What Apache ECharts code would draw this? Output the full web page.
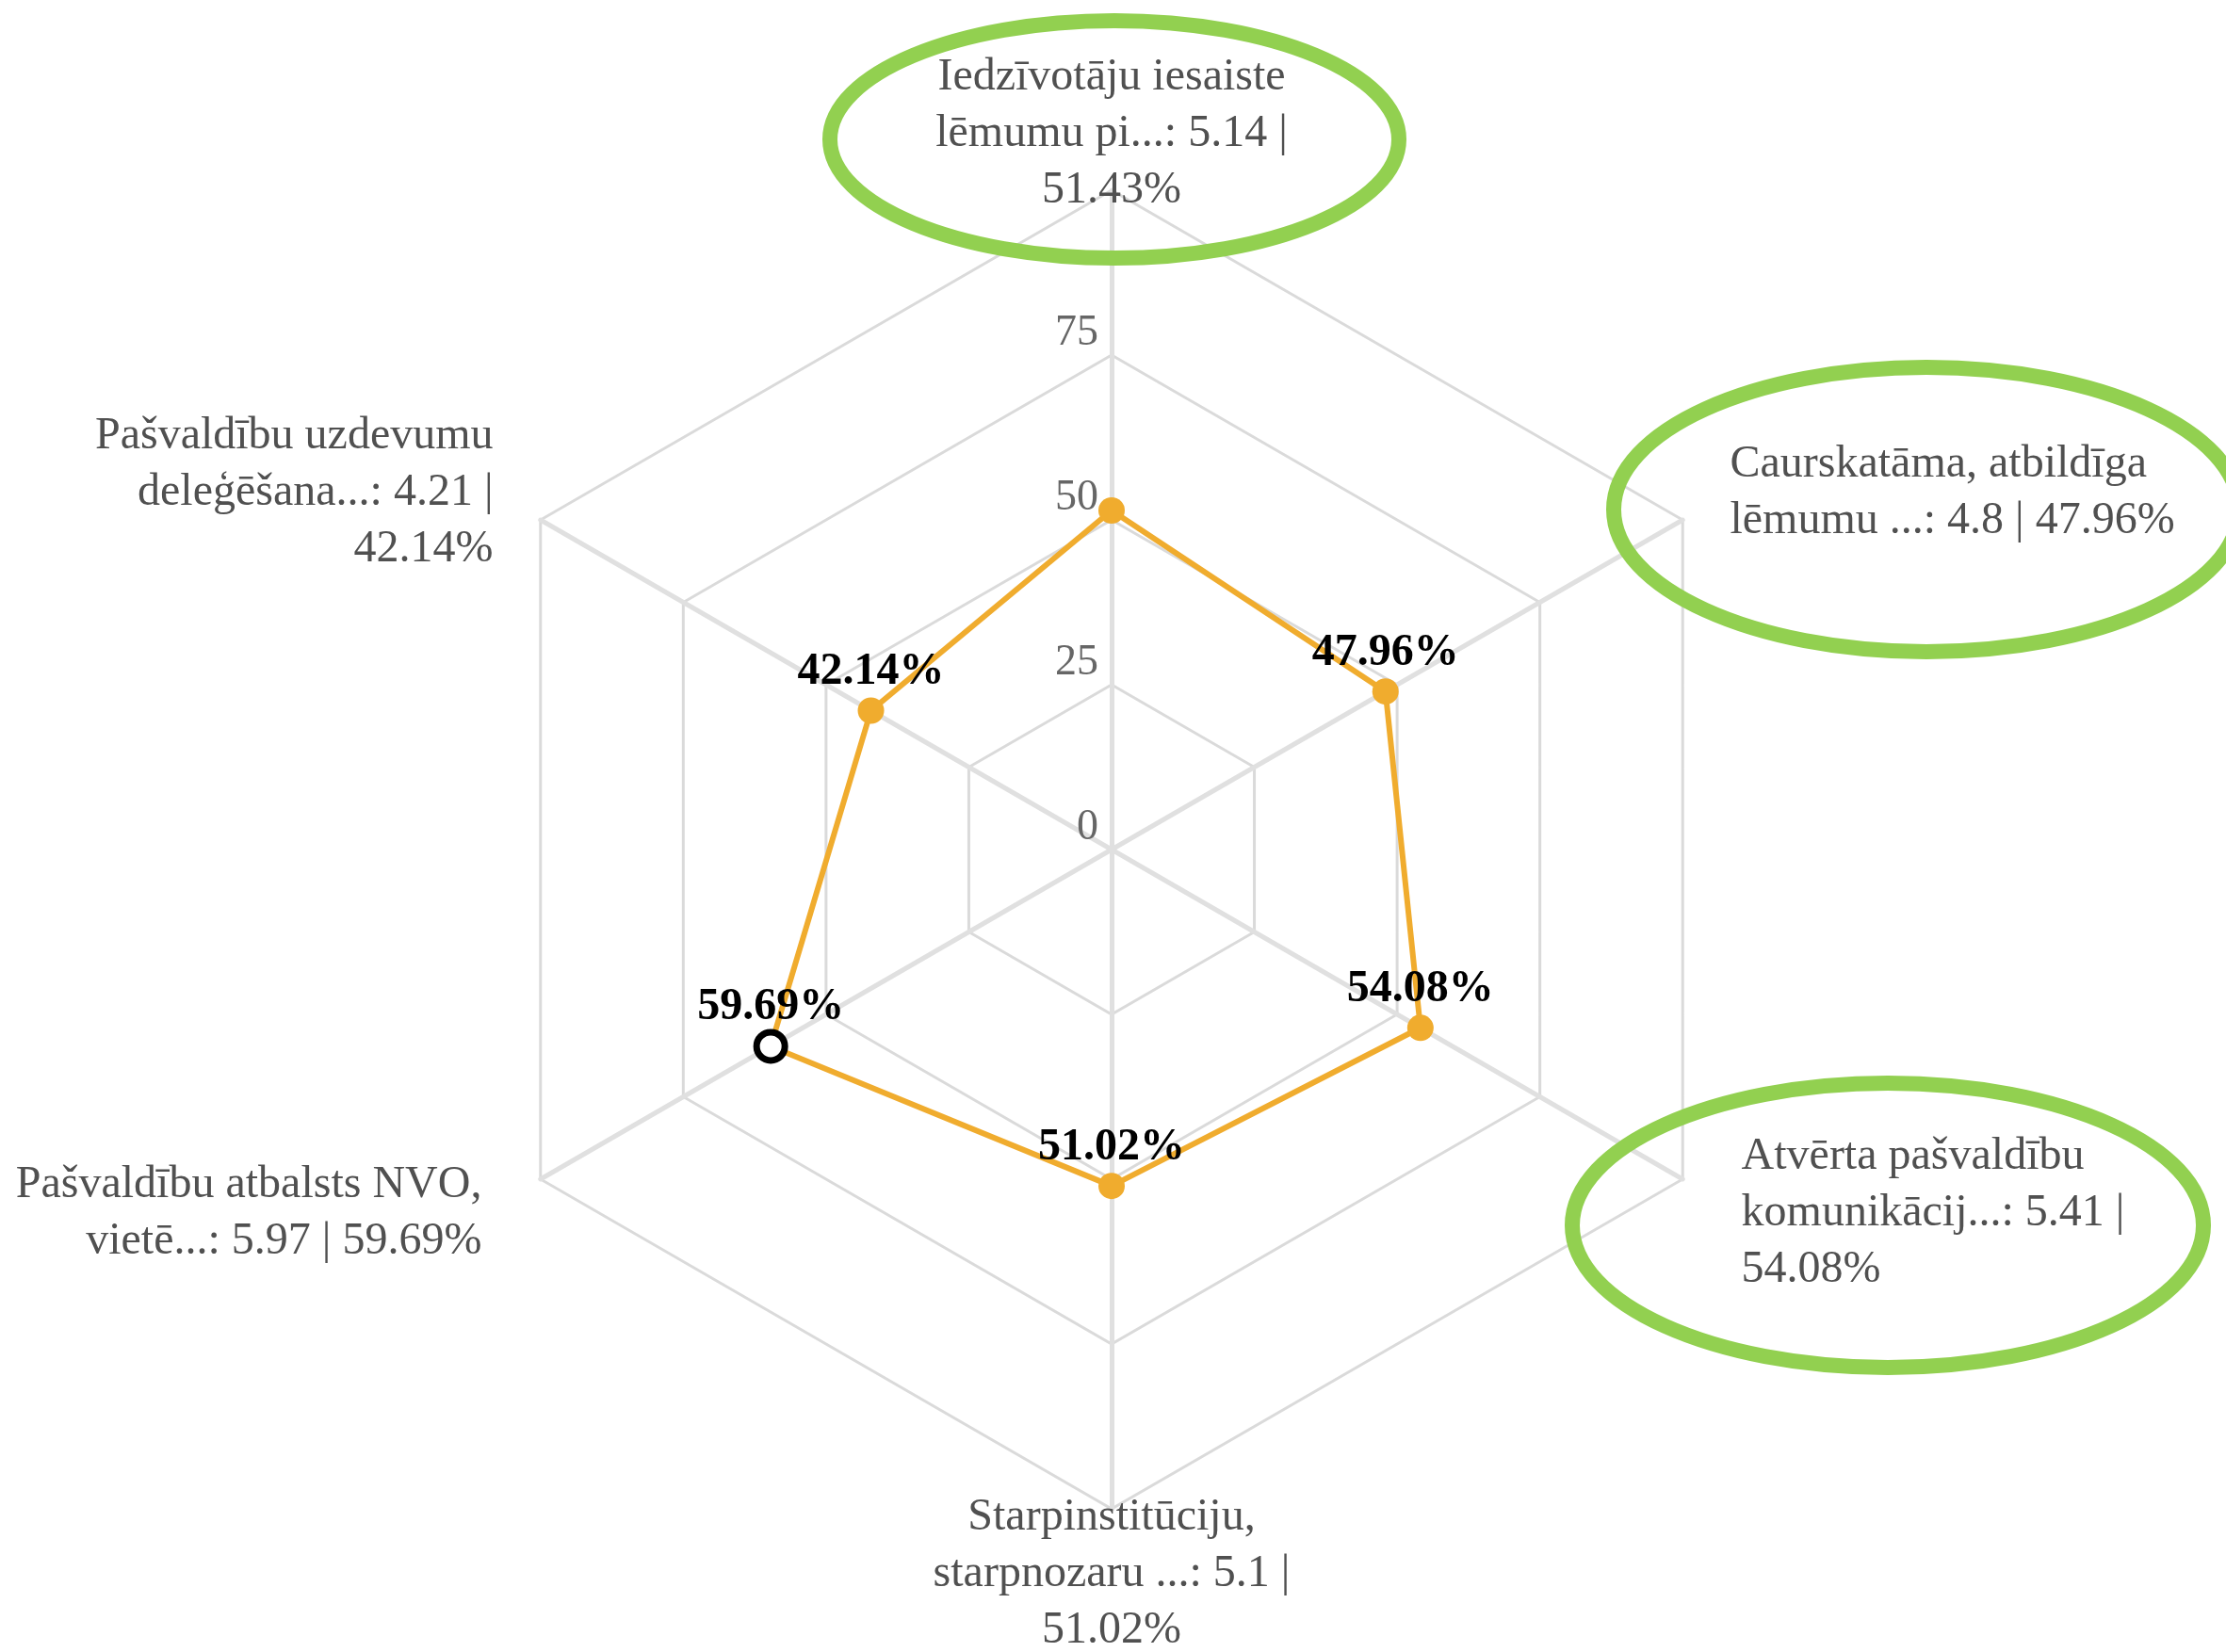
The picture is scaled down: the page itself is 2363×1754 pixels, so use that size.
<!DOCTYPE html>
<html>
<head>
<meta charset="utf-8">
<title>Radar</title>
<script src="https://cdn.jsdelivr.net/npm/echarts@6/dist/echarts.min.js"></script>
<style>
  html, body { margin: 0; padding: 0; background: #fff; }
  #chart { width: 2363px; height: 1754px; }
</style>
</head>
<body>
<div id="chart"></div>
<script>
// indicators, counter-clockwise from the top
const indicators = [
  'Iedzīvotāju iesaiste lēmumu pi...',
  'Pašvaldību uzdevumu deleģēšana...',
  'Pašvaldību atbalsts NVO, vietē...',
  'Starpinstitūciju, starpnozaru ...',
  'Atvērta pašvaldību komunikācij...',
  'Caurskatāma, atbildīga lēmumu ...'
];
const scores = [5.14, 4.21, 5.97, 5.1, 5.41, 4.8];
const shares = [51.43, 42.14, 59.69, 51.02, 54.08, 47.96];
const axisTicks = [0, 25, 50, 75, 100];
const markedIndicator = 'Pašvaldību atbalsts NVO, vietē...';

// distance of each indicator name from its spoke end
const nameGaps = [-30, 58, 72, -21, 72, 58];

const serif = 'Liberation Serif';
const orange = '#f0ac2e';
const green = '#92d050';
const center = [1180, 902];
const radius = 700;

function wrap(text, max) {
  const lines = [];
  let cur = '';
  text.split(' ').forEach(w => {
    if (cur && (cur + ' ' + w).length > max) {
      lines.push(cur);
      cur = w;
    } else {
      cur = cur ? cur + ' ' + w : w;
    }
  });
  if (cur) lines.push(cur);
  return lines.join('\n');
}

const chart = echarts.init(document.getElementById('chart'));
const marked = indicators.indexOf(markedIndicator);

chart.setOption({
  animation: false,
  backgroundColor: '#fff',
  radar: {
    center: center,
    radius: radius,
    shape: 'polygon',
    splitNumber: axisTicks.length - 1,
    indicator: indicators.map((name, i) => ({
      name: name,
      min: axisTicks[0],
      max: axisTicks[axisTicks.length - 1],
      nameGap: nameGaps[i],
      axisLabel: { show: i === 0 }
    })),
    axisName: {
      color: '#505050',
      fontFamily: serif,
      fontSize: 48,
      lineHeight: 60,
      formatter: (name) => {
        const i = indicators.indexOf(name);
        return wrap(name + ': ' + scores[i] + ' | ' + shares[i] + '%', 25);
      }
    },
    axisLine: { lineStyle: { color: '#e0e0e0', width: 5 } },
    splitLine: { lineStyle: { color: '#dadada', width: 3 } },
    splitArea: { show: false },
    axisTick: { show: false },
    axisLabel: {
      show: false,
      showMaxLabel: false,
      color: '#666',
      fontFamily: serif,
      fontSize: 46,
      margin: 14,
      verticalAlign: 'bottom'
    }
  },
  polar: { center: center, radius: radius },
  angleAxis: {
    type: 'value', min: 0, max: 360, startAngle: 90, clockwise: false,
    show: false, splitLine: { show: false }
  },
  radiusAxis: {
    min: axisTicks[0], max: axisTicks[axisTicks.length - 1],
    show: false, splitLine: { show: false }
  },
  series: [
    {
      type: 'radar',
      symbol: 'circle',
      symbolSize: 28,
      lineStyle: { color: orange, width: 6 },
      itemStyle: { color: orange },
      label: {
        show: true,
        position: 'top',
        distance: 3,
        fontFamily: serif,
        fontWeight: 'bold',
        fontSize: 48,
        color: '#000',
        formatter: p => shares.indexOf(p.value) === 0 ? '' : p.value + '%'
      },
      data: [{ value: shares, name: 'Vērtējums' }]
    },
    {
      type: 'scatter',
      coordinateSystem: 'polar',
      symbol: 'circle',
      symbolSize: 30,
      z: 5,
      silent: true,
      itemStyle: { color: '#fff', borderColor: '#000', borderWidth: 7, opacity: 1 },
      data: [[shares[marked], marked * 360 / indicators.length]]
    }
  ],
  graphic: {
    elements: [
      { type: 'ellipse', z: 100, shape: { cx: 1183, cy: 148, rx: 302, ry: 126 },
        style: { fill: 'none', stroke: green, lineWidth: 16 } },
      { type: 'ellipse', z: 100, shape: { cx: 2045, cy: 541, rx: 332, ry: 151 },
        style: { fill: 'none', stroke: green, lineWidth: 16 } },
      { type: 'ellipse', z: 100, shape: { cx: 2004, cy: 1301, rx: 335, ry: 151 },
        style: { fill: 'none', stroke: green, lineWidth: 16 } }
    ]
  }
});
</script>
</body>
</html>
